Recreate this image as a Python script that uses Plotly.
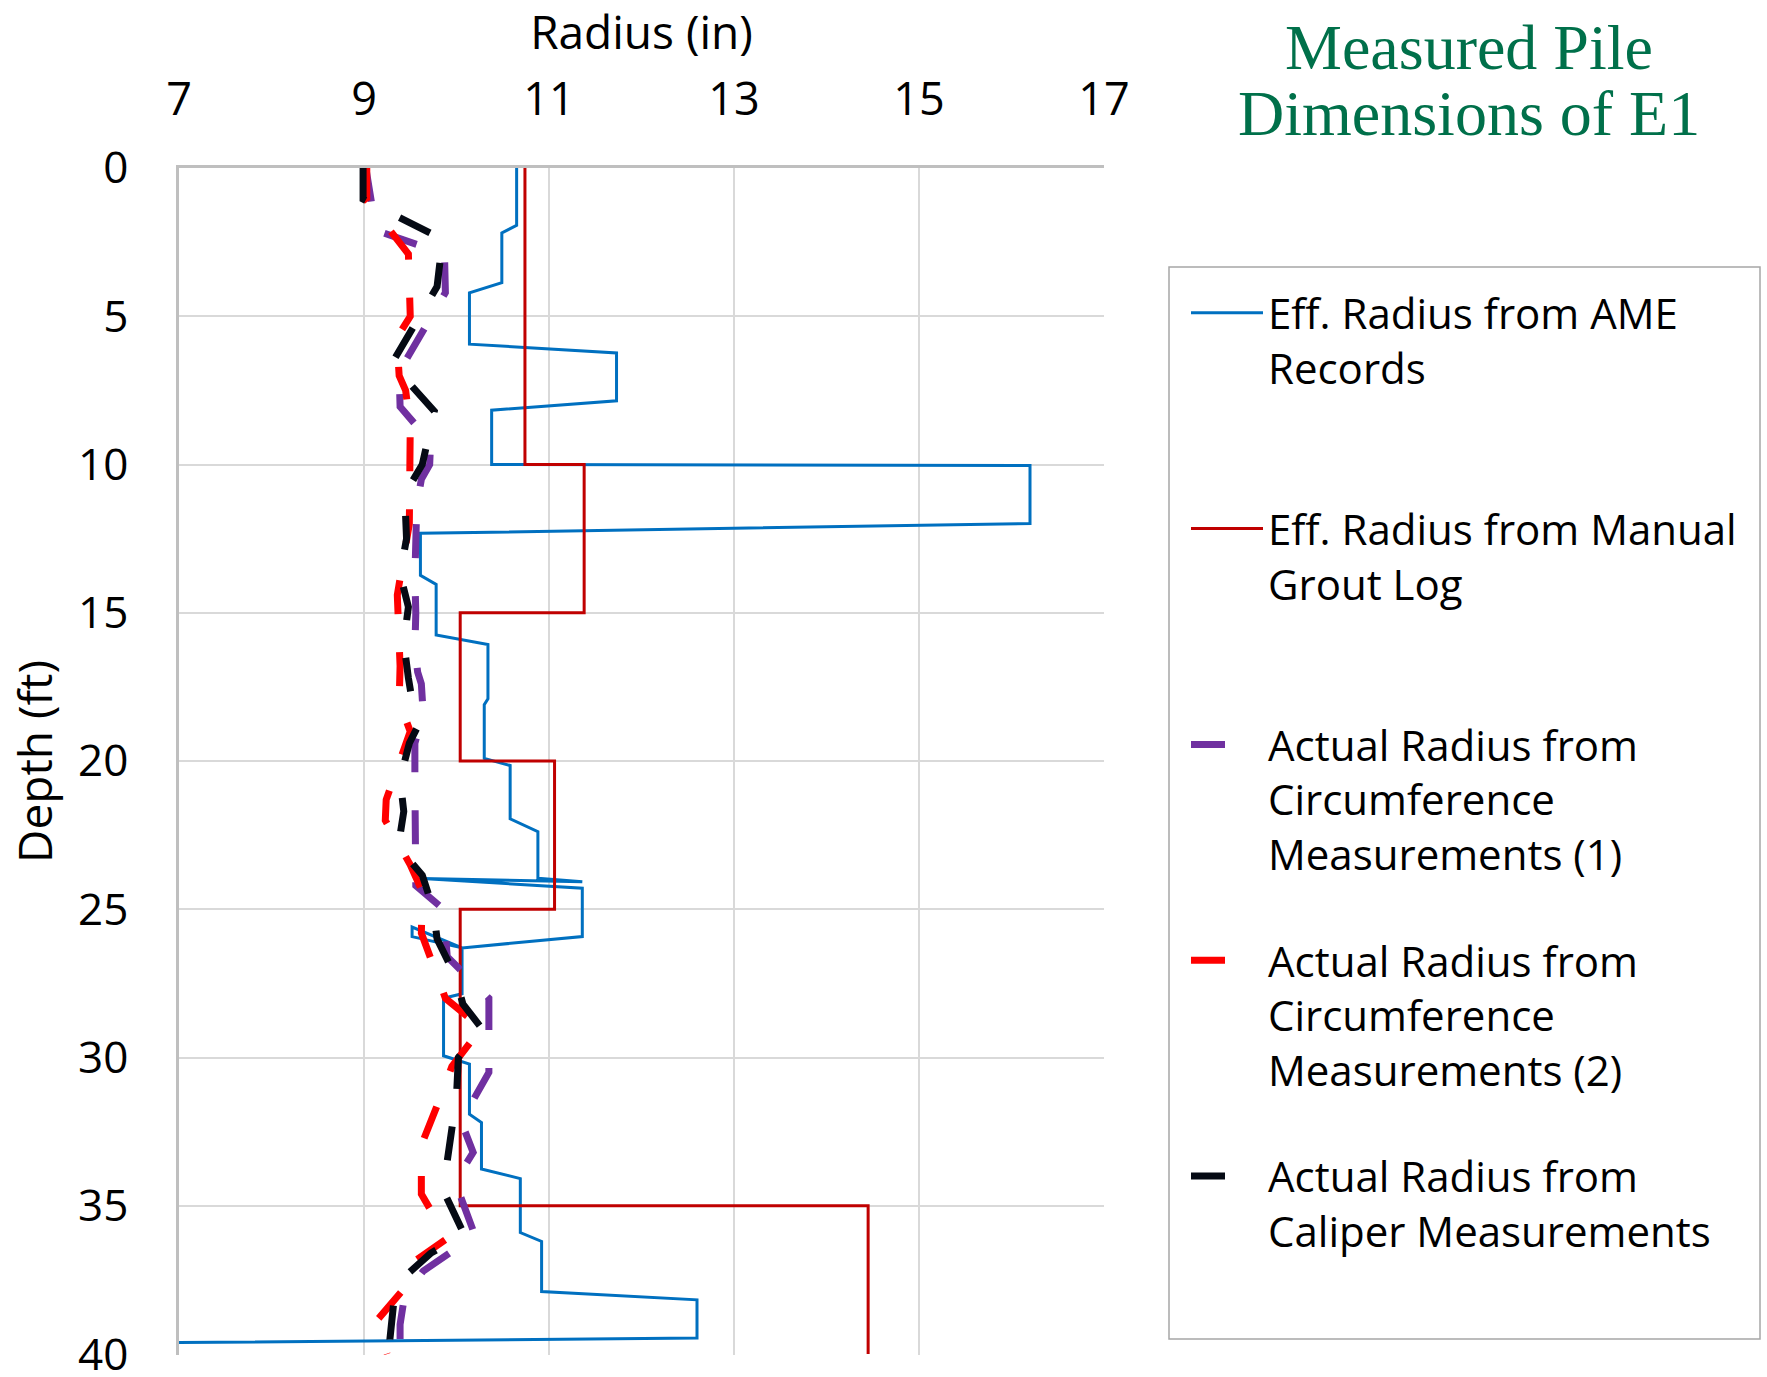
import plotly.graph_objects as go

# ---------------- data ----------------
x_ticks = [7, 9, 11, 13, 15, 17]
y_ticks = [0, 5, 10, 15, 20, 25, 30, 35, 40]

# Eff. Radius from AME Records
ame_depth = [0, 1.93, 2.19, 3.87, 4.21, 5.94, 6.24, 7.85, 8.17, 10.0, 10.03, 11.99,
             12.32, 13.74, 14.04, 15.75, 16.07, 17.9, 18.1, 19.91, 20.15, 21.95, 22.38,
             23.95, 24.07, 23.96, 24.29, 25.92, 26.3, 25.6, 25.92, 26.3, 27.85, 28.0,
             29.94, 30.22, 31.91, 32.19, 33.76, 34.08, 35.9, 36.2, 37.89, 38.17, 39.46, 39.8]
ame_radius = [10.65, 10.65, 10.49, 10.49, 10.14, 10.14, 11.73, 11.73, 10.38, 10.38, 16.2, 16.2,
              9.61, 9.61, 9.78, 9.78, 10.34, 10.34, 10.30, 10.30, 10.58, 10.58, 10.88,
              10.88, 11.36, 9.63, 11.36, 11.36, 10.06, 9.52, 9.52, 10.06, 10.06, 9.86,
              9.86, 10.14, 10.14, 10.27, 10.27, 10.69, 10.69, 10.92, 10.92, 12.6, 12.6, 0.0]

# Eff. Radius from Manual Grout Log
grout_depth = [0, 10, 10, 15, 15, 20, 20, 25, 25, 35, 35, 40]
grout_radius = [10.74, 10.74, 11.38, 11.38, 10.04, 10.04, 11.06, 11.06, 10.04, 10.04, 14.45, 14.45]

# Actual Radius from Circumference Measurements (1)
circ1_depth = [0, 1.2, 2.1, 2.9, 4.2, 6.5, 6.9, 8.05, 9.25, 10.0, 10.5, 11.4, 12.6, 13.8,
               15.0, 16.2, 17.0, 17.4, 18.4, 19.4, 20.7, 21.8, 23.0, 24.2, 25.0, 26.6,
               28.0, 30.5, 32.15, 33.2, 34.0, 34.4, 36.0, 37.2, 38.0, 39.0, 40.0]
circ1_radius = [9.02, 9.08, 9.13, 9.87, 9.88, 9.45, 9.38, 9.39, 9.72, 9.71, 9.62, 9.57, 9.56, 9.55,
                9.56, 9.55, 9.58, 9.62, 9.64, 9.55, 9.55, 9.55, 9.55, 9.56, 9.86, 9.90,
                10.35, 10.35, 10.05, 10.18, 10.02, 10.01, 10.20, 9.64, 9.44, 9.39, 9.39]

# Actual Radius from Circumference Measurements (2)
circ2_depth = [0, 1.1, 2.9, 4.2, 5.0, 5.5, 6.5, 7.0, 7.5, 8.7, 12.0, 14.4, 16.8, 18.0, 19.0,
               21.3, 22.0, 23.5, 24.4, 25.8, 28.0, 29.0, 30.3, 31.7, 32.8, 33.9, 34.6, 36.1,
               36.9, 37.8, 38.9, 40.0]
circ2_radius = [9.03, 9.03, 9.48, 9.50, 9.50, 9.40, 9.37, 9.38, 9.45, 9.50, 9.49, 9.36, 9.39, 9.38, 9.50,
                9.24, 9.23, 9.50, 9.63, 9.62, 9.88, 10.27, 9.95, 9.78, 9.64, 9.62, 9.62, 9.90,
                9.53, 9.43, 9.13, 9.25]

# Actual Radius from Caliper Measurements
cal_depth = [0, 1.05, 2.4, 4.0, 6.6, 8.2, 10.0, 11.0, 12.5, 13.7, 14.8, 16.0, 17.2, 18.9, 19.4,
             20.6, 21.7, 22.9, 23.85, 25.0, 26.0, 27.2, 28.2, 29.0, 30.0, 31.3, 32.4, 33.7,
             34.7, 35.95, 36.6, 37.3, 38.3, 39.5, 40.0]
cal_radius = [8.99, 8.99, 9.85, 9.79, 9.30, 9.76, 9.63, 9.44, 9.46, 9.39, 9.48, 9.43, 9.48, 9.57, 9.49,
              9.39, 9.43, 9.37, 9.63, 9.75, 9.79, 9.98, 10.07, 10.27, 10.02, 10.0, 9.95, 9.89,
              9.89, 10.08, 9.72, 9.47, 9.32, 9.28, 9.30]

names = [
    "Eff. Radius from AME<br>Records<br>\u00a0",
    "Eff. Radius from Manual<br>Grout Log<br>\u00a0",
    "Actual Radius from<br>Circumference<br>Measurements (1)",
    "Actual Radius from<br>Circumference<br>Measurements (2)",
    "Actual Radius from<br>Caliper Measurements",
]

# ---------------- figure ----------------
W, H = 1767, 1377
L, R, T, B = 179, 663, 168, 22
PW, PH = W - L - R, H - T - B

def px2paper_x(px):
    return (px - L) / PW

def px2paper_y(py):
    return (H - B - py) / PH

fig = go.Figure()
dash = "34px,38px"
fig.add_trace(go.Scatter(x=ame_radius, y=ame_depth, mode="lines", name=names[0],
                         legendgroup="a", line=dict(color="#0070C0", width=3)))
fig.add_trace(go.Scatter(x=grout_radius, y=grout_depth, mode="lines", name=names[1],
                         legendgroup="b", line=dict(color="#C00000", width=3)))
fig.add_trace(go.Scatter(x=circ1_radius, y=circ1_depth, mode="lines", name=names[2],
                         legendgroup="c", line=dict(color="#7030A0", width=7, dash=dash)))
fig.add_trace(go.Scatter(x=circ2_radius, y=circ2_depth, mode="lines", name=names[3],
                         legendgroup="d", line=dict(color="#FF0000", width=7, dash=dash)))
fig.add_trace(go.Scatter(x=cal_radius, y=cal_depth, mode="lines", name=names[4],
                         legendgroup="e", line=dict(color="#050A14", width=7, dash=dash)))

FONT = "Open Sans"
fig.update_layout(
    width=W, height=H,
    margin=dict(l=L, r=R, t=T, b=B, autoexpand=False),
    paper_bgcolor="white", plot_bgcolor="white",
    font=dict(family=FONT, color="black"),
    showlegend=True,
    legend=dict(
        xref="container", yref="container",
        x=1186 / W, y=1 - 279 / H, xanchor="left", yanchor="top",
        borderwidth=0, bgcolor="rgba(0,0,0,0)",
        font=dict(family=FONT, size=42, color="black"),
        valign="top", tracegroupgap=49, itemwidth=72, maxheight=1300,
    ),
)
# legend frame
fig.add_shape(type="rect", xref="paper", yref="paper",
              x0=px2paper_x(1169), x1=px2paper_x(1760),
              y0=px2paper_y(1339), y1=px2paper_y(267),
              line=dict(color="#A6A6A6", width=1.5), fillcolor="rgba(0,0,0,0)")

fig.update_xaxes(
    side="top", range=[7, 17], tickvals=x_ticks, ticktext=[str(v) for v in x_ticks],
    showgrid=True, gridcolor="#D9D9D9", gridwidth=1.5, automargin=False,
    showline=True, linecolor="#BFBFBF", linewidth=2.5, zeroline=False,
    ticks="", ticklabelstandoff=32, ticklabeloverflow="allow",
    tickfont=dict(family=FONT, size=45, color="black"),
    title=dict(text="Radius (in)", font=dict(family=FONT, size=46, color="black"), standoff=20),
)
fig.update_yaxes(
    range=[40.03, 0], tickvals=y_ticks, ticktext=[str(v) for v in y_ticks],
    showgrid=True, gridcolor="#D9D9D9", gridwidth=1.5, automargin=False,
    showline=True, linecolor="#BFBFBF", linewidth=2.5, zeroline=False,
    ticks="", ticklabelstandoff=39, ticklabeloverflow="allow",
    tickfont=dict(family=FONT, size=44, color="black"),
    title=dict(text="Depth (ft)", font=dict(family=FONT, size=46, color="black"), standoff=12),
)

for txt, ypx in [("Measured Pile", 47), ("Dimensions of E1", 113)]:
    fig.add_annotation(text=txt, xref="paper", yref="paper",
                       x=px2paper_x(1469), y=px2paper_y(ypx), xanchor="center", yanchor="middle",
                       showarrow=False,
                       font=dict(family="Liberation Serif", size=64, color="#00704A"))

fig.write_html("out.html")
